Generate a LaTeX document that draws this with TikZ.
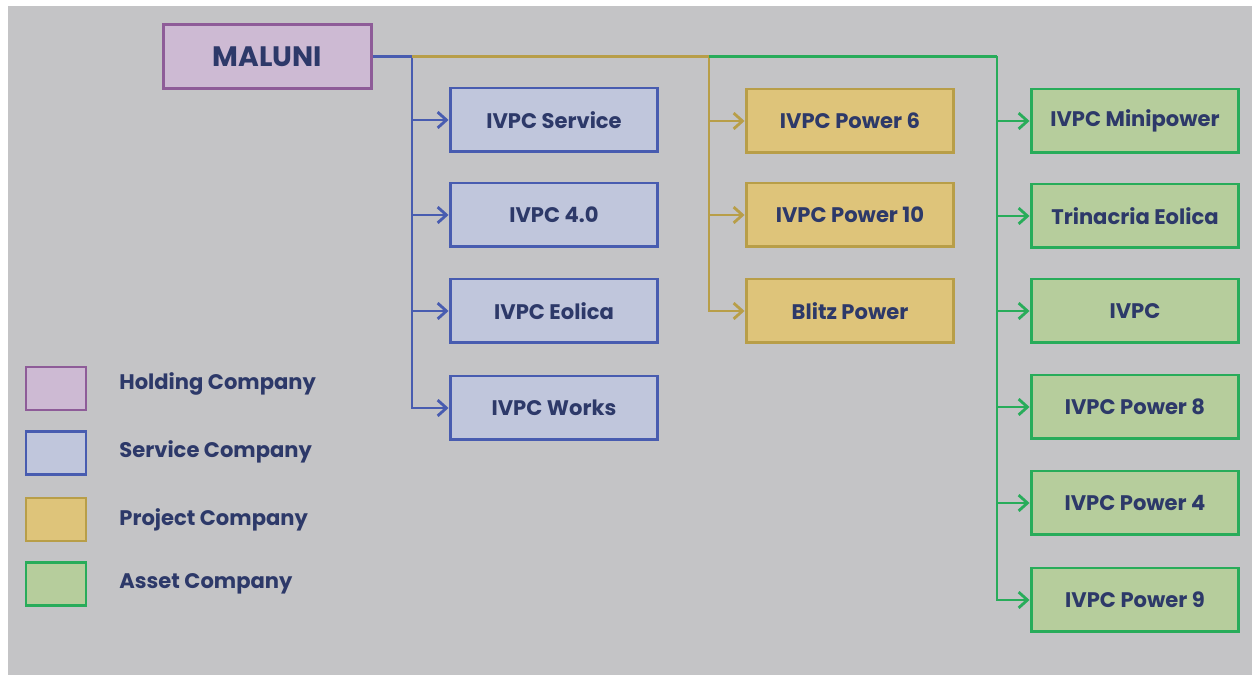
\documentclass[tikz,border=0pt]{standalone}
\usepackage{fontspec}
\setmainfont{Poppins}
\usepackage{tikz}
\usetikzlibrary{calc}
\usetikzlibrary{arrows.meta, positioning}
\usepackage{xcolor}

\definecolor{bggray}{RGB}{196,196,198}
\definecolor{textnavy}{RGB}{45,57,105}
\definecolor{holdfill}{RGB}{205,186,211}
\definecolor{holddraw}{RGB}{142,92,152}
\definecolor{servfill}{RGB}{192,198,220}
\definecolor{servdraw}{RGB}{72,92,176}
\definecolor{projfill}{RGB}{222,196,122}
\definecolor{projdraw}{RGB}{184,158,72}
\definecolor{assfill}{RGB}{182,205,156}
\definecolor{assdraw}{RGB}{40,172,90}

\begin{document}
\begin{tikzpicture}[
    x=0.02cm, y=-0.02cm,
    >={Straight Barb[length=5pt, width=9pt, line width=1.6pt]},
    % Phong cách các hộp công ty
    base_box/.style={rectangle, line width=1.7pt, minimum width=4.16cm, minimum height=1.28cm,
        text=textnavy, font=\bfseries\fontsize{12}{14}\selectfont},
    holding_node/.style={base_box, draw=holddraw, fill=holdfill, font=\bfseries\fontsize{16}{18}\selectfont},
    service_node/.style={base_box, draw=servdraw, fill=servfill},
    project_node/.style={base_box, draw=projdraw, fill=projfill},
    asset_node/.style={base_box, draw=assdraw, fill=assfill},
    % Chú giải
    legend_box/.style={rectangle, line width=1.7pt, minimum width=1.2cm, minimum height=0.86cm},
    legend_label/.style={anchor=west, text=textnavy, font=\bfseries\fontsize{12}{14}\selectfont, inner sep=0pt},
    % Đường nối
    link/.style={line width=1.6pt}
]

    % --- 0. NỀN ---
    \useasboundingbox (0,0) rectangle (1252,675);
    \fill[bggray] (8,6) rectangle (1252,675);

    % --- 1. CÔNG TY MẸ ---
    \node[holding_node] (maluni) at (267.5,56.5) {MALUNI};

    % --- 2. CÔNG TY DỊCH VỤ ---
    \node[service_node] (sv1) at (554,120) {IVPC Service};
    \node[service_node] (sv2) at (554,215) {IVPC 4.0};
    \node[service_node] (sv3) at (554,311) {IVPC Eolica};
    \node[service_node] (sv4) at (554,408) {IVPC Works};

    % --- 3. CÔNG TY DỰ ÁN ---
    \node[project_node] (pj1) at (850,121) {IVPC Power 6};
    \node[project_node] (pj2) at (850,215) {IVPC Power 10};
    \node[project_node] (pj3) at (850,311) {Blitz Power};

    % --- 4. CÔNG TY TÀI SẢN ---
    \node[asset_node] (as1) at (1135,121) {IVPC Minipower};
    \node[asset_node] (as2) at (1135,216) {Trinacria Eolica};
    \node[asset_node] (as3) at (1135,311) {IVPC};
    \node[asset_node] (as4) at (1135,407) {IVPC Power 8};
    \node[asset_node] (as5) at (1135,503) {IVPC Power 4};
    \node[asset_node] (as6) at (1135,600) {IVPC Power 9};

    % --- 5. ĐƯỜNG NỐI ---
    \coordinate (sb) at (412,56.5);
    \coordinate (pb) at (709,56.5);
    \coordinate (ab) at (997,56.5);

    \draw[link, draw=servdraw] (maluni.east) -- (sb);
    \foreach \i in {1,...,4} {
        \draw[link, ->, draw=servdraw] (sb) |- (sv\i.west);
    }
    \draw[link, draw=projdraw] (sb) -- (pb);
    \foreach \i in {1,2,3} {
        \draw[link, ->, draw=projdraw] (pb) |- (pj\i.west);
    }
    \draw[link, draw=assdraw] (pb) -- (ab);
    \foreach \i in {1,...,6} {
        \draw[link, ->, draw=assdraw] (ab) |- (as\i.west);
    }

    % --- 6. CHÚ GIẢI ---
    \node[legend_box, draw=holddraw, fill=holdfill] (lg1) at (56,388.5) {};
    \node[legend_box, draw=servdraw, fill=servfill] (lg2) at (56,453) {};
    \node[legend_box, draw=projdraw, fill=projfill] (lg3) at (56,519.5) {};
    \node[legend_box, draw=assdraw, fill=assfill] (lg4) at (56,584) {};

    \node[legend_label] (lt1) at (119,384) {Holding Company};
    \node[legend_label] (lt2) at (119,452) {Service Company};
    \node[legend_label] (lt3) at (119,520) {Project Company};
    \node[legend_label] (lt4) at (119,584) {Asset Company};

\end{tikzpicture}
\end{document}
